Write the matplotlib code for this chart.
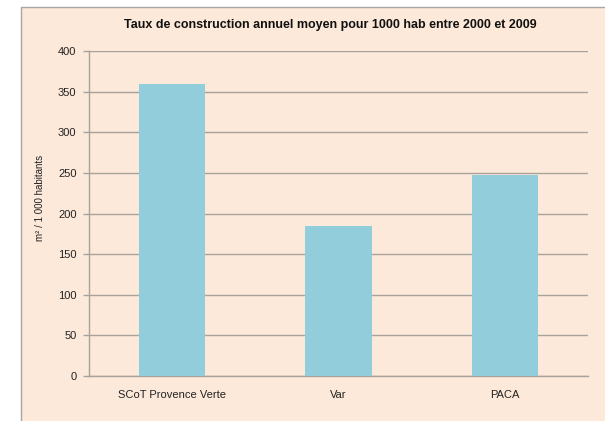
import matplotlib
matplotlib.use("Agg")
import matplotlib.pyplot as plt
from matplotlib.patches import Rectangle

# Taux de construction annuel moyen (m² pour 1000 habitants), 2000-2009
categories = ["SCoT Provence Verte", "Var", "PACA"]
values = [359, 185, 247]
yticks = [0, 50, 100, 150, 200, 250, 300, 350, 400]

BG = "#FDE9D9"
BAR = "#92CDDC"
GRID = "#A8A29D"

plt.rcParams["font.family"] = ["Liberation Sans", "DejaVu Sans"]

fig = plt.figure(figsize=(6.05, 4.21), dpi=100)
fig.patch.set_facecolor("white")

# chart frame, open on the right and bottom
frame = Rectangle((21 / 605, -0.05), 1.2, 0.05 + 1 - 7 / 421,
                  transform=fig.transFigure, facecolor=BG,
                  edgecolor="#A6A6A6", linewidth=1.0, zorder=-10)
fig.patches.append(frame)

ax = fig.add_axes([89 / 605, 1 - 376 / 421, (588 - 89) / 605, (376 - 51) / 421])
ax.set_facecolor("none")
ax.set_zorder(1)

x = range(len(categories))
ax.bar(x, values, width=0.40, color=BAR, zorder=3)

ax.set_xlim(-0.5, len(categories) - 0.5)
ax.set_ylim(0, 400)
ax.set_yticks(yticks)
ax.set_xticks(list(x))
ax.set_xticklabels(categories)
ax.yaxis.grid(True, color=GRID, linewidth=1.0, zorder=1)
ax.set_axisbelow(True)

for side in ("top", "right"):
    ax.spines[side].set_visible(False)
for side in ("left", "bottom"):
    ax.spines[side].set_color(GRID)
    ax.spines[side].set_linewidth(1.0)

ax.tick_params(axis="y", length=4, color=GRID, width=1.0, pad=5,
               labelsize=8, labelcolor="#222222")
ax.tick_params(axis="x", length=0, pad=10, labelsize=8, labelcolor="#222222")

fig.text(40 / 605, 1 - 198 / 421, "m² / 1 000 habitants", rotation=90,
         ha="center", va="center", fontsize=7, color="#222222")
fig.text(330 / 605, 1 - 25 / 421,
         "Taux de construction annuel moyen pour 1000 hab entre 2000 et 2009",
         ha="center", va="center", fontsize=9, fontweight="bold", color="#111111")

fig.savefig("out.png", dpi=100, facecolor=fig.get_facecolor())
